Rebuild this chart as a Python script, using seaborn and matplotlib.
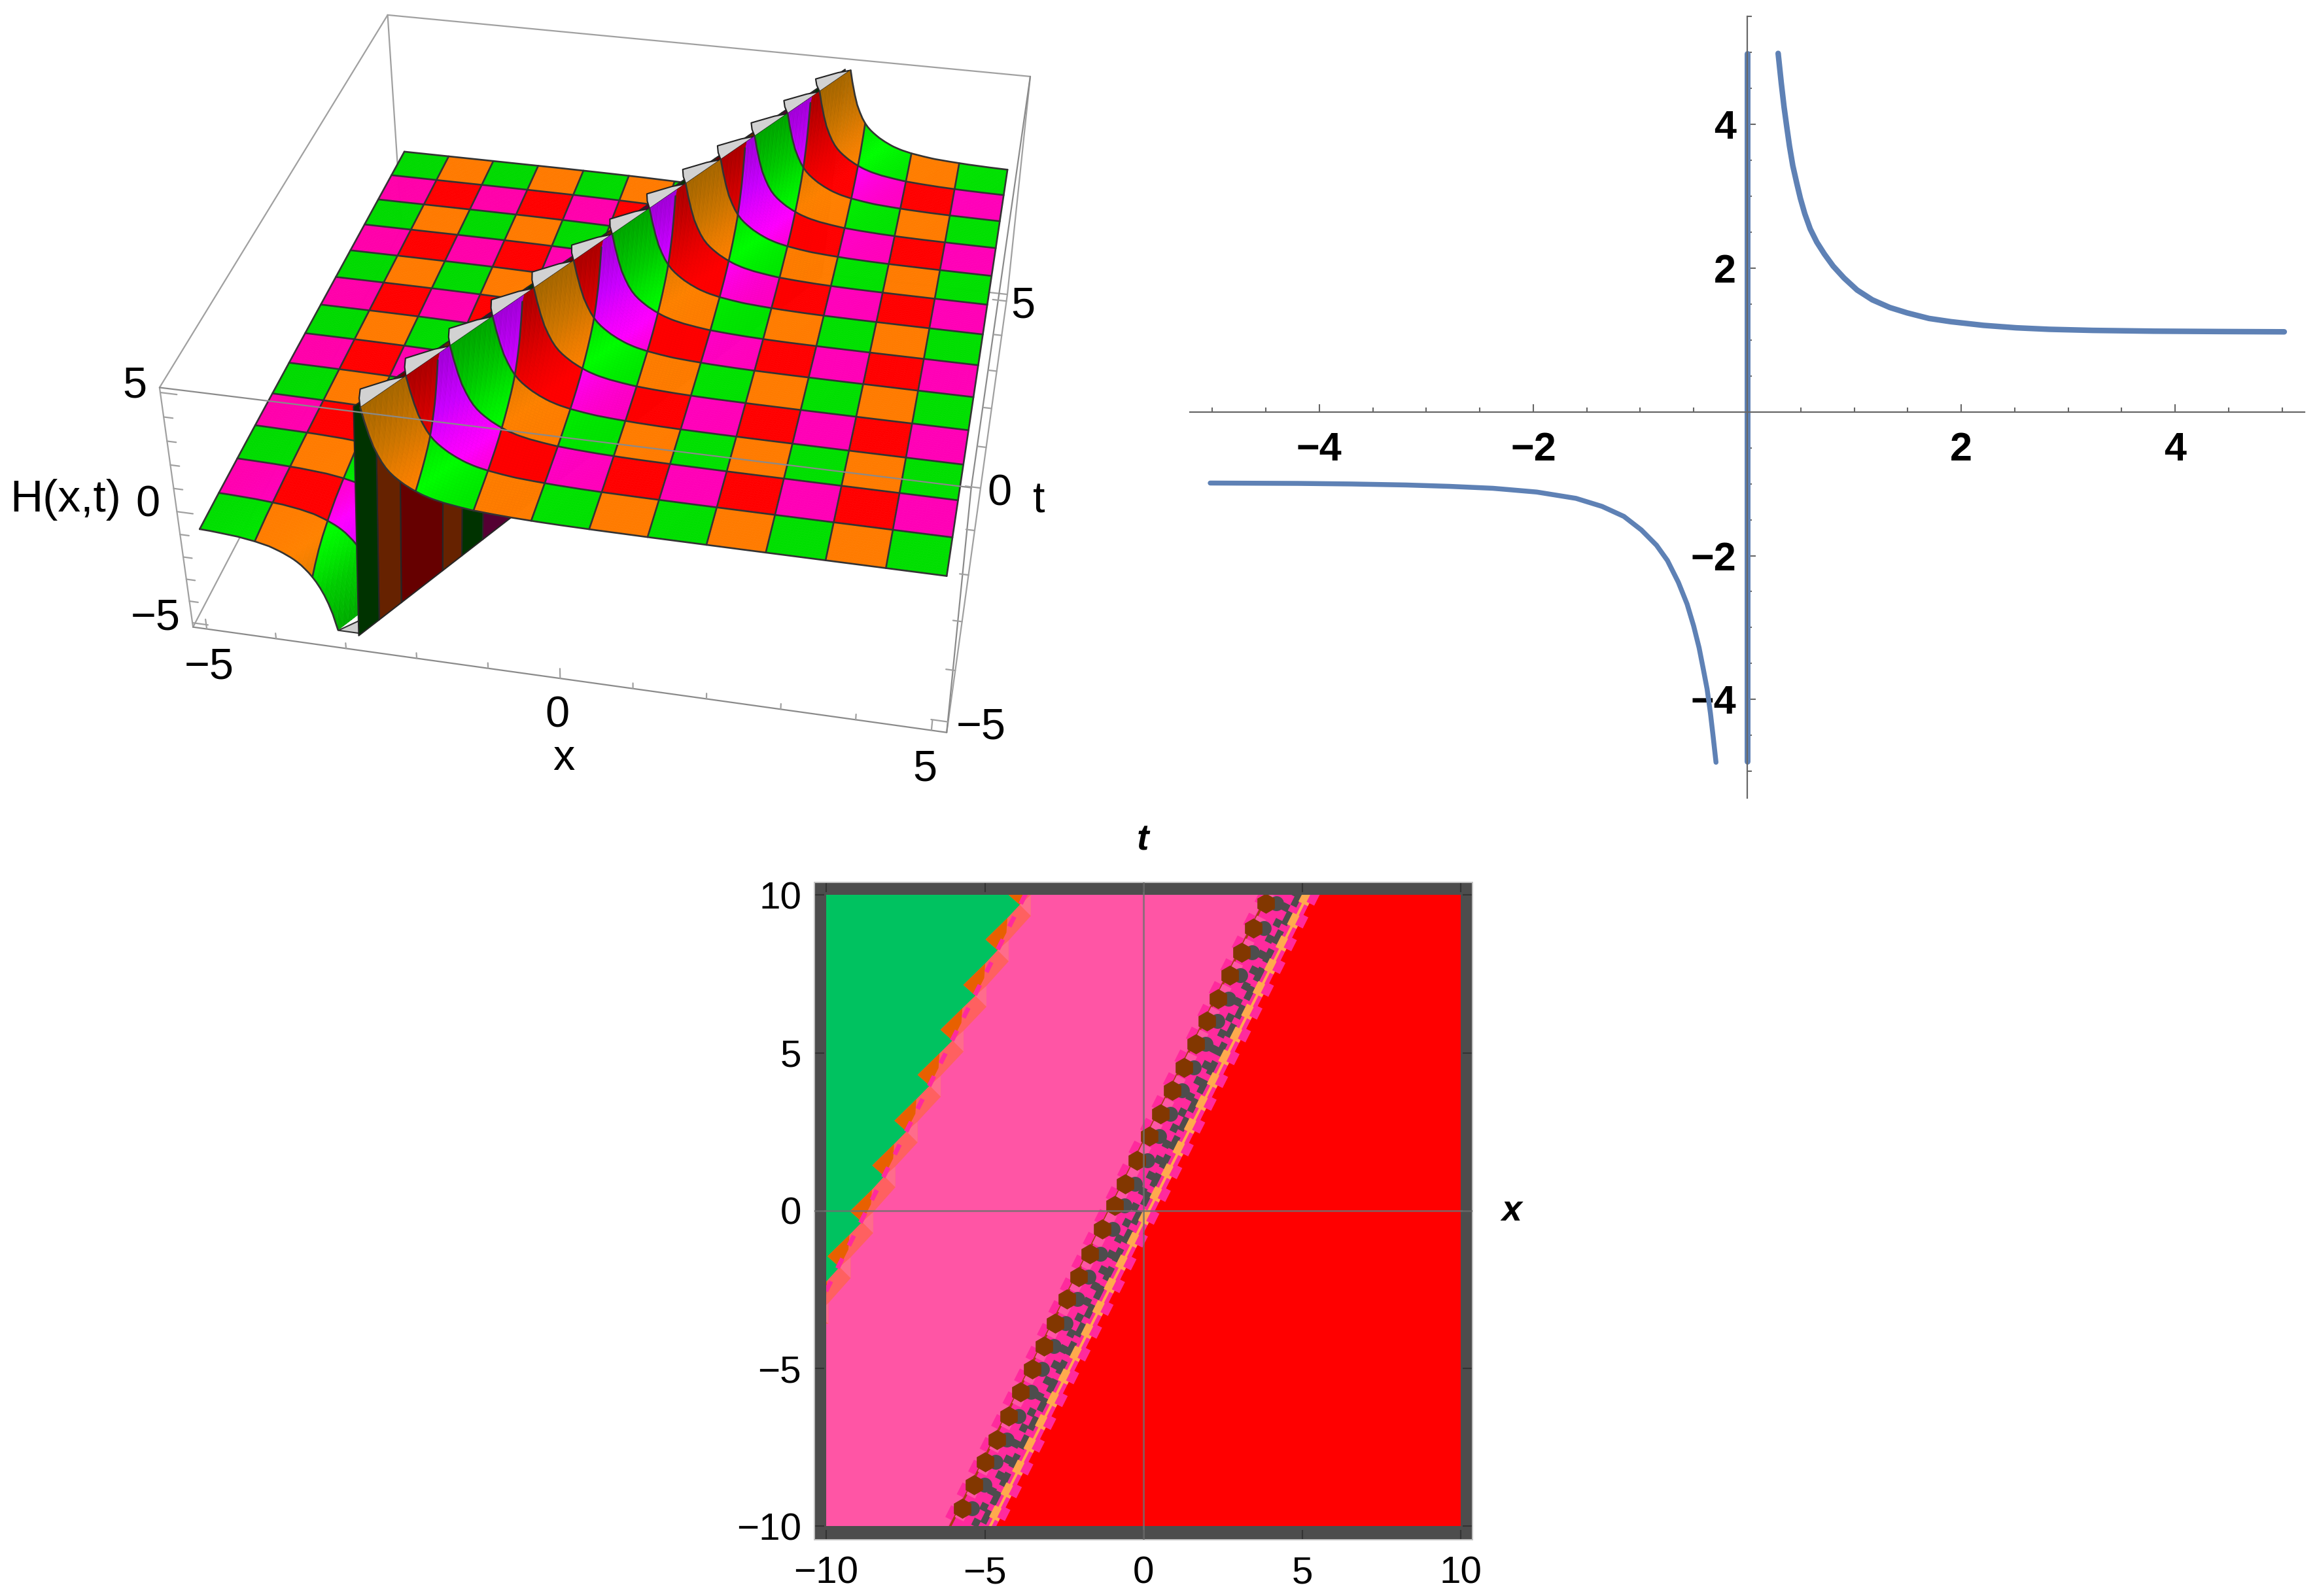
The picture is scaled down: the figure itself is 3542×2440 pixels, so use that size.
import numpy as np, matplotlib
matplotlib.use('Agg')
import matplotlib.pyplot as plt
import seaborn as sns
from matplotlib.patches import Rectangle
from mpl_toolkits.mplot3d.art3d import Poly3DCollection

# ---------- values ----------
# H against x (top right panel); also the profile of the surface across the pole
upper_x = [0.289, 0.318, 0.344, 0.369, 0.395, 0.426, 0.463, 0.497, 0.538, 0.589, 0.650, 0.721, 0.803, 0.905,
           1.027, 1.169, 1.333, 1.496, 1.699, 1.903, 2.208, 2.514, 2.820, 3.227, 3.8, 4.4, 5.02]
upper_y = [4.985, 4.575, 4.242, 3.969, 3.696, 3.423, 3.180, 2.968, 2.755, 2.543, 2.361, 2.195, 2.027, 1.861,
           1.694, 1.558, 1.451, 1.376, 1.299, 1.254, 1.203, 1.169, 1.148, 1.133, 1.122, 1.117, 1.113]
lower_x = [-5.02, -4.2, -3.7, -3.191, -2.783, -2.376, -1.968, -1.601, -1.357, -1.153, -0.990, -0.848, -0.746,
           -0.644, -0.562, -0.501, -0.450, -0.410, -0.375, -0.344, -0.318, -0.292]
lower_y = [-0.99, -0.995, -1.003, -1.017, -1.036, -1.063, -1.115, -1.203, -1.315, -1.454, -1.642, -1.855, -2.067,
           -2.370, -2.674, -2.977, -3.280, -3.583, -3.856, -4.190, -4.524, -4.873]
pole_x = [0, 0]
pole_y = [4.98, -4.86]
x_major = [-4, -2, 2, 4]
y_major = [-4, -2, 2, 4]
x_minor = [-5, -4.5, -3.5, -3, -2.5, -1.5, -1, -0.5, 0.5, 1, 1.5, 2.5, 3, 3.5, 4.5, 5]
y_minor = [-5, -4.5, -3.5, -3, -2.5, -1.5, -1, -0.5, 0.5, 1, 1.5, 2.5, 3, 3.5, 4.5, 5, 5.5]

# surface: cells of the checker, colour stops against |H|
n_cells = 13
pole_shift = 0.375
h_stops = [1.0, 1.8, 3.2, 5.0]
green_stops = [(0, 218, 0), (0, 255, 0), (0, 205, 0), (0, 165, 0)]
orange_stops = [(255, 122, 0), (255, 130, 0), (205, 118, 0), (165, 102, 0)]
red_stops = [(255, 0, 0), (255, 0, 0), (215, 0, 0), (170, 0, 0)]
magenta_stops = [(255, 0, 170), (255, 0, 255), (200, 0, 255), (160, 0, 215)]
wall_colors = {'g': (0, 51, 0), 'o': (102, 34, 0), 'r': (102, 0, 0), 'm': (85, 0, 51)}

# contour panel: sawtooth tips on the left edge, blocks in the band
tooth_x = [-4.28, -4.98, -5.68, -6.40, -7.12, -7.85, -8.55, -9.25, -9.96, -10.66]
tooth_t = [10.03, 8.59, 7.15, 5.73, 4.30, 2.85, 1.43, -0.02, -1.45, -2.90]
block_t = [9.73, 8.94, 8.19, 7.46, 6.71, 6.0, 5.29, 4.54, 3.81, 3.06, 2.35, 1.59, 0.84, 0.17, -0.59,
           -1.38, -2.1, -2.81, -3.56, -4.29, -5.03, -5.75, -6.51, -7.25, -7.97, -8.68, -9.43]
contour_ticks = [-10, -5, 0, 5, 10]
u_pink_edge, u_band_edge = -1.15, 0.36

GREEN_C, PINK_C, RED_C = '#00C260', '#FF55A5', '#FF0000'
HOT_C, DARK_C, BROWN_C, AMBER_C = '#FF2A9D', '#4D4D4D', '#823700', '#FFAA4D'
ORANGE_C, SALMON_C, ROSE_C = '#E86000', '#FF6060', '#FF6C8C'
BLUE_C = '#5E81B5'

# ---------- set-up ----------
sns.set_style('white')
plt.rcParams['font.family'] = ['Liberation Sans', 'DejaVu Sans']
plt.rcParams['text.color'] = 'black'
plt.rcParams['xtick.labelcolor'] = 'black'
plt.rcParams['ytick.labelcolor'] = 'black'
FW, FH = 3542, 2440
fig = plt.figure(figsize=(FW / 100, FH / 100), dpi=100)
pt = 0.72  # points per pixel at this dpi


def ptext(x, y, s, **kw):
    kw.setdefault('ha', 'center')
    kw.setdefault('va', 'center')
    fig.text(x / FW, 1 - y / FH, s, **kw)


# ---------- 3D panel ----------
B = 5.2
ax3 = fig.add_axes([0.0, 0.4, 1500 / FW, 1500 / FH], projection='3d', computed_zorder=False)
ax3.set_xlim(-B, B, view_margin=0)
ax3.set_ylim(-B, B, view_margin=0)
ax3.set_zlim(-B, B, view_margin=0)
ax3.set_box_aspect((1, 1.0057, 0.3945))
ax3.view_init(35.0447, -78.5699, 0.0149)
ax3.set_proj_type('persp', focal_length=0.4462)
ax3.set_axis_off()
ax3.patch.set_visible(False)

# place the axes so the projected box lands where it sits in the reference
scale, cx, cy = 8353.105, 973.854, 512.262
ax3.apply_aspect()
o0, o1 = ax3.transData.transform([[0, 0], [1, 1]])
k = scale / (o1[0] - o0[0])
L0, B0 = ax3.get_position().x0 * FW, ax3.get_position().y0 * FH
W0 = ax3.get_position().width * FW
W1 = W0 * k
L1 = cx - (o0[0] - L0) * k
B1 = (FH - cy) - (o0[1] - B0) * k
ax3.set_position([L1 / FW, B1 / FH, W1 / FW, W1 / FH])

sub = 16
edges = np.linspace(-5, 5, n_cells + 1)
cell = edges[1] - edges[0]
xf = np.linspace(-5, 5, n_cells * sub + 1)
tf = np.linspace(-5, 5, n_cells * sub + 1)
XG, TG = np.meshgrid(xf, tf)


def facet_color(c, j, h):
    table = (green_stops if j % 2 == 0 else magenta_stops) if c % 2 == 0 else (orange_stops if j % 2 == 0 else red_stops)
    table = np.asarray(table, float)
    return np.stack([np.interp(h, h_stops, table[:, i]) for i in range(3)], axis=-1) / 255


def surface(X, Z, clamped):
    drop = clamped[:-1, :-1] & clamped[1:, :-1] & clamped[:-1, 1:] & clamped[1:, 1:]
    jj, ii = np.nonzero(~drop)
    verts = np.stack([
        np.stack([X[jj, ii], TG[jj, ii], Z[jj, ii]], -1),
        np.stack([X[jj, ii + 1], TG[jj, ii + 1], Z[jj, ii + 1]], -1),
        np.stack([X[jj + 1, ii + 1], TG[jj + 1, ii + 1], Z[jj + 1, ii + 1]], -1),
        np.stack([X[jj + 1, ii], TG[jj + 1, ii], Z[jj + 1, ii]], -1)], 1)
    h = np.abs(verts[:, :, 2].mean(1))
    cc, rr = ii // sub, jj // sub
    cols = np.zeros((len(ii), 3))
    for a in (0, 1):
        for b in (0, 1):
            m = (cc % 2 == a) & (rr % 2 == b)
            cols[m] = facet_color(a, b, h[m])
    return verts, cols


def mesh_lines(side, prof_x, prof_y, u_lim, zo):
    for e in edges:
        tt = tf
        xx = np.full_like(tt, e)
        uu = xx - tt / 2 + pole_shift
        valid = uu >= u_lim if side > 0 else uu <= u_lim
        zz = np.where(valid, np.interp(uu, prof_x, prof_y), np.nan)
        ax3.plot(xx, tt, zz, color='#333333', lw=1.9, zorder=zo)
        tt2 = np.full_like(xf, e)
        edge = u_lim + tt2 / 2 - pole_shift
        xx2 = np.maximum(xf, edge) if side > 0 else np.minimum(xf, edge)
        uu2 = xx2 - tt2 / 2 + pole_shift
        ax3.plot(xx2, tt2, np.interp(uu2, prof_x, prof_y), color='#333333', lw=1.9, zorder=zo)


u_top, u_bot = upper_x[0], lower_x[-1]

edge_l = u_bot + TG / 2 - pole_shift
XL = np.minimum(XG, edge_l)
ZL = np.interp(XL - TG / 2 + pole_shift, lower_x, lower_y)
vL, cL = surface(XL, ZL, XG >= edge_l)
ax3.add_collection3d(Poly3DCollection(vL, facecolors=cL, edgecolors=cL, linewidths=0.5, zorder=2))
mesh_lines(-1, lower_x, lower_y, u_bot, 3)

# flat clipped patch at the lower end of the front cell
tc = np.array([-5, -5, -5 + cell])
uc = np.array([u_bot, 0.02, 0.02])
ax3.add_collection3d(Poly3DCollection([np.c_[uc + tc / 2 - pole_shift, tc, np.full(3, lower_y[-1])]],
                                      facecolors='#CFCFCF', edgecolors='#333333', linewidths=1.5, zorder=4))

# wall at the pole: one strip between every crossing of the mesh lines
cross = 2 * (edges + pole_shift)
breaks = np.unique(np.r_[edges, cross[(cross > -5) & (cross < 5)]])
wall_v, wall_c = [], []
for t0, t1 in zip(breaks[:-1], breaks[1:]):
    tm = (t0 + t1) / 2
    c = int((tm / 2 - pole_shift + 5) // cell)
    j = int((tm + 5) // cell)
    key = ('g' if j % 2 == 0 else 'm') if c % 2 == 0 else ('o' if j % 2 == 0 else 'r')
    wall_c.append(np.array(wall_colors[key]) / 255)
    xb0, xb1 = t0 / 2 - pole_shift, t1 / 2 - pole_shift
    wall_v.append([(xb0, t0, -5), (xb1, t1, -5), (xb1 + 0.2, t1, 5), (xb0 + 0.2, t0, 5)])
ax3.add_collection3d(Poly3DCollection(wall_v, facecolors=wall_c, edgecolors='#262626', linewidths=1.5, zorder=5))

# flat clipped flaps at the top of the pole
flaps = []
for t0, t1 in zip(edges[:-1], edges[1:]):
    tri_u = np.array([u_top, u_top, 0.16, -0.02, 0.12])
    tri_t = np.array([t0, t1, t1 - 0.15 * (t1 - t0), t0 + 0.5 * (t1 - t0), t0 + 0.25 * (t1 - t0)])
    flaps.append(np.c_[tri_u + tri_t / 2 - pole_shift, tri_t, np.full(5, upper_y[0])])
ax3.add_collection3d(Poly3DCollection(flaps, facecolors='#D2D2D2', edgecolors='#222222', linewidths=1.5, zorder=6))

edge_r = u_top + TG / 2 - pole_shift
XR = np.maximum(XG, edge_r)
ZR = np.interp(XR - TG / 2 + pole_shift, upper_x, upper_y)
vR, cR = surface(XR, ZR, XG <= edge_r)
ax3.add_collection3d(Poly3DCollection(vR, facecolors=cR, edgecolors=cR, linewidths=0.5, zorder=7))
mesh_lines(1, upper_x, upper_y, u_top, 8)

box_c = '#A0A0A0'


def seg(a, b, zo=1, c=box_c, lw=1.6):
    ax3.plot([a[0], b[0]], [a[1], b[1]], [a[2], b[2]], color=c, lw=lw, zorder=zo)


for a, b in [((-B, B, B), (B, B, B)), ((-B, B, B), (-B, B, -B)), ((-B, B, B), (-B, -B, B)),
             ((-B, -B, B), (-B, -B, -B)), ((-B, -B, -B), (-B, B, -B)), ((B, B, B), (B, B, -B)),
             ((-B, B, -B), (B, B, -B)), ((B, B, -B), (B, -B, -B))]:
    seg(a, b, 1)
for a, b in [((-B, -B, B), (B, -B, B)), ((B, -B, B), (B, -B, -B)), ((B, -B, B), (B, B, B)),
             ((-B, -B, -B), (B, -B, -B))]:
    seg(a, b, 10, '#8A8A8A')
ticks3 = np.arange(-5, 6)
for v in ticks3:
    ln = 0.45 if v % 5 == 0 else 0.25
    seg((v, -B, -B), (v, -B, -B + ln), 10)
    seg((B, v, -B), (B - ln / 2, v, -B), 10)
    seg((-B, -B, v), (-B + ln / 2, -B, v), 10)

lab = dict(fontsize=48, color='black')
ptext(206, 590, '5', **lab)
ptext(226, 772, '0', **lab)
ptext(238, 945, '\u22125', **lab)
ptext(100, 764, 'H(x,t)', fontsize=50, color='black')
ptext(320, 1020, '\u22125', **lab)
ptext(852, 1094, '0', **lab)
ptext(1414, 1176, '5', **lab)
ptext(862, 1160, 'x', **lab)
ptext(1500, 1112, '\u22125', **lab)
ptext(1528, 756, '0', **lab)
ptext(1588, 766, 't', **lab)
ptext(1564, 468, '5', **lab)

# ---------- curve panel ----------
left, right, top, bot = 1819, 3523, 25, 1220
ax2 = fig.add_axes([left / FW, 1 - bot / FH, (right - left) / FW, (bot - top) / FH])
ax2.patch.set_visible(False)
for xs, ys, w in ((upper_x, upper_y, 8.5), (lower_x, lower_y, 7.5), (pole_x, pole_y, 9)):
    sns.lineplot(x=xs, y=ys, ax=ax2, color=BLUE_C, lw=w * pt, estimator=None, sort=False, errorbar=None)
ax2.set_xlim(-5.21, 5.21)
ax2.set_ylim(-5.37, 5.5)
for s in ('top', 'right'):
    ax2.spines[s].set_visible(False)
for s in ('left', 'bottom'):
    ax2.spines[s].set_position('zero')
    ax2.spines[s].set_color('#666666')
    ax2.spines[s].set_linewidth(2.2 * pt)
narrow = ['Liberation Sans Narrow', 'Liberation Sans', 'DejaVu Sans']
ax2.set_xticks(x_major, [str(v).replace('-', '\u2212') for v in x_major], fontsize=44, fontweight='bold', family=narrow)
ax2.set_yticks(y_major, [str(v).replace('-', '\u2212') for v in y_major], fontsize=44, fontweight='bold', family=narrow)
ax2.set_xticks(x_minor, minor=True)
ax2.set_yticks(y_minor, minor=True)
ax2.tick_params(axis='x', which='major', direction='in', length=9, width=1.5, color='#666666', pad=22, bottom=True)
ax2.tick_params(axis='x', which='minor', direction='in', length=5, width=1.5, color='#666666', bottom=True)
ax2.tick_params(axis='y', which='major', direction='in', length=9, width=1.5, color='#666666', pad=12, left=True)
ax2.tick_params(axis='y', which='minor', direction='in', length=5, width=1.5, color='#666666', left=True)

# ---------- contour panel ----------
ax1 = fig.add_axes([1244.6 / FW, 1 - 2353.5 / FH, (2251 - 1244.6) / FW, (2353.5 - 1349) / FH])
ax1.set_xlim(-10.38, 10.37)
ax1.set_ylim(-10.42, 10.4)
ax1.set_facecolor(DARK_C)
for s in ax1.spines.values():
    s.set_color('#C4C4C4')
    s.set_linewidth(2 * pt)
clip = Rectangle((-10, -10), 20, 20, transform=ax1.transData)
ends = np.array([-10.5, 10.5])


def ulx(u, tt=ends):
    return u + np.asarray(tt) / 2


def fill_left(edge_x, edge_t, color, zo):
    px = np.r_[-12, edge_x, -12]
    py = np.r_[edge_t[0], edge_t, edge_t[-1]]
    p, = ax1.fill(px, py, color=color, lw=0, zorder=zo)
    p.set_clip_path(clip)


def band_line(u, color, width, on=None, off=None, zo=3, tt=ends):
    lw = width * pt
    ls = '-' if on is None else (0, (on * pt / lw, off * pt / lw))
    l, = ax1.plot(ulx(u, tt), tt, color=color, lw=lw, ls=ls, zorder=zo)
    l.set_clip_path(clip)


ax1.add_patch(Rectangle((-10, -10), 20, 20, color=RED_C, lw=0, zorder=1))
fill_left(ulx(u_band_edge), ends, HOT_C, 1.1)
fill_left(ulx(u_pink_edge), ends, PINK_C, 1.2)

tx, tt_ = np.array(tooth_x), np.array(tooth_t)
stair_x = np.c_[tx + 0.73, tx + 0.73].ravel()
stair_t = np.c_[tt_ - 0.03, tt_ - 0.69].ravel()
fill_left(stair_x, stair_t, SALMON_C, 1.3)
saw_x = np.c_[tx + 0.69, tx, tx + 0.38].ravel()
saw_t = np.c_[tt_ + 0.68, tt_, tt_ - 0.34].ravel()
fill_left(saw_x, saw_t, GREEN_C, 1.5)
for a, b in zip(tx, tt_):
    p, = ax1.fill([a + 0.38, a + 0.73, a + 0.73], [b - 0.34, b - 0.03, b - 0.69], color=ROSE_C, lw=0, zorder=1.4)
    p.set_clip_path(clip)
    p, = ax1.fill([a, a + 0.69, a + 0.66, a + 0.38], [b, b + 0.68, b + 0.22, b - 0.34], color=ORANGE_C, lw=0, zorder=1.6)
    p.set_clip_path(clip)
band_line(-8.73, HOT_C, 7, 17, 22, zo=1.7)

band_line(-1.22, HOT_C, 15, 20, 19)
band_line(-1.09, '#A83C10', 3.5)
band_line(-0.92, PINK_C, 15, 15, 24, zo=3.1)
bt = np.array(block_t)
band_line(-0.33, DARK_C, 11, 12, 15, zo=3.1)
band_line(-0.10, DARK_C, 10, 22, 10, zo=3.1)
band_line(0.17, AMBER_C, 4, zo=3.2)
band_line(0.17, AMBER_C, 16, 20, 19, zo=3.2)
band_line(0.40, HOT_C, 13, 19, 20, zo=3.3)
sc = ax1.scatter(ulx(-0.68, bt), bt, s=(20 * pt) ** 2 * 1.3, marker='o', color=DARK_C, lw=0, zorder=3.4)
sc.set_clip_path(clip)
sc = ax1.scatter(ulx(-1.0, bt), bt, s=(27 * pt) ** 2 * 1.3, marker='h', color=BROWN_C, lw=0, zorder=3.5)
sc.set_clip_path(clip)

ax1.axhline(0, color='#707070', lw=3 * pt, alpha=0.75, zorder=5)
ax1.axvline(0, color='#707070', lw=3 * pt, alpha=0.75, zorder=5)
ax1.set_xticks(contour_ticks, [str(v).replace('-', '\u2212') for v in contour_ticks], fontsize=42)
ax1.set_yticks(contour_ticks, [str(v).replace('-', '\u2212') for v in contour_ticks], fontsize=42)
ax1.tick_params(direction='in', length=11, width=1.5, color='#333333', top=True, right=True, bottom=True, left=True, pad=18)
ax1.tick_params(axis='y', pad=14)
ptext(1747, 1285, 't', fontsize=40, style='italic', fontweight='bold')
ptext(2311, 1852, 'x', fontsize=40, style='italic', fontweight='bold')

fig.savefig('out.png', dpi=100)
